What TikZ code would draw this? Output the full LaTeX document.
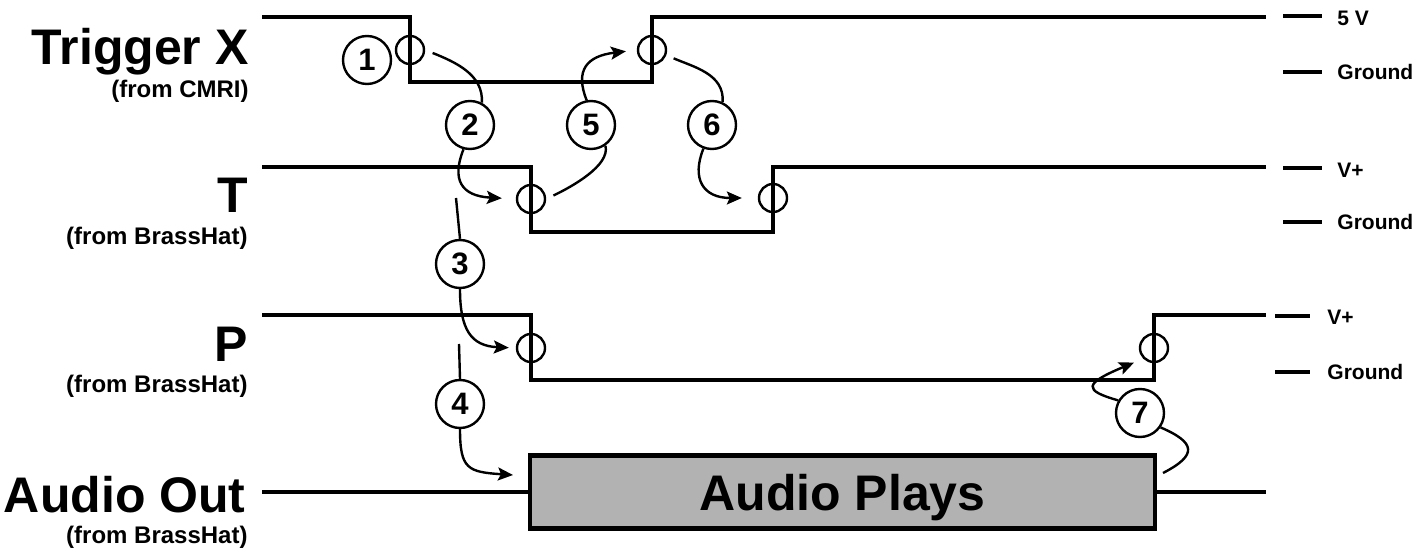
\documentclass[tikz,border=0pt]{standalone}
\usepackage{fontspec}
\setmainfont{Liberation Sans}
\usetikzlibrary{arrows.meta}
\definecolor{boxgray}{RGB}{178,178,178}
\tikzstyle{signal} = [line width=2.2pt]
\tikzstyle{levelmark} = [line width=2.2pt]
\tikzstyle{edgemark} = [
    circle,
    draw,
    line width=1.2pt,
    minimum size=14pt,
    inner sep=0pt
]
\tikzstyle{stepno} = [
    circle,
    draw,
    line width=1.2pt,
    minimum size=24pt,
    inner sep=0pt,
    font=\fontsize{15.5}{15.5}\selectfont\bfseries
]
\tikzstyle{playbox} = [
    rectangle,
    draw,
    line width=2.2pt,
    fill=boxgray,
    minimum width=312.5pt,
    minimum height=36.5pt,
    inner sep=0pt,
    text depth=0pt,
    font=\fontsize{25}{30}\selectfont\bfseries
]
\tikzstyle{bigtag} = [anchor=base east, inner sep=0pt, font=\fontsize{25}{30}\selectfont\bfseries]
\tikzstyle{subtag} = [anchor=base east, inner sep=0pt, font=\fontsize{12}{14}\selectfont\bfseries]
\tikzstyle{leveltag} = [anchor=base west, inner sep=0pt, font=\fontsize{10.5}{12}\selectfont\bfseries]
\tikzstyle{link} = [line width=1.2pt]
\tikzstyle{arrow} = [line width=1.2pt, -{Stealth[length=7.5pt,width=6.5pt,inset=1.5pt]}]

\begin{document}
\begin{tikzpicture}[x=0.5pt, y=-0.5pt]
\useasboundingbox (0,0) rectangle (1424,550);

\node (trigx) [bigtag] at (249,65) {Trigger X};
\node (trigxsrc) [subtag] at (249,98) {(from CMRI)};
\node (tline) [bigtag] at (248,213) {T};
\node (tsrc) [subtag] at (248,245) {(from BrassHat)};
\node (pline) [bigtag] at (248,362) {P};
\node (psrc) [subtag] at (248,393) {(from BrassHat)};
\node (audio) [bigtag] at (246,512) {Audio Out};
\node (audiosrc) [subtag] at (248,543) {(from BrassHat)};

\draw [signal] (262,17) -- (410,17) -- (410,82) -- (652,82) -- (652,17) -- (1266,17);
\draw [signal] (262,167) -- (531,167) -- (531,232) -- (773,232) -- (773,167) -- (1266,167);
\draw [signal] (262,315) -- (531,315) -- (531,380) -- (1154,380) -- (1154,315) -- (1266,315);

\node (play) [playbox] at (842.5,492) {Audio Plays};
\draw [signal] (262,492) -- (play.west);
\draw [signal] (play.east) -- (1266,492);

\draw [levelmark] (1283,16) -- (1322,16);
\draw [levelmark] (1283,72) -- (1322,72);
\draw [levelmark] (1283,168) -- (1322,168);
\draw [levelmark] (1283,222) -- (1322,222);
\draw [levelmark] (1275,316) -- (1310,316);
\draw [levelmark] (1275,372) -- (1310,372);
\node (fivev) [leveltag] at (1337,26) {5 V};
\node (gndx) [leveltag] at (1337,80) {Ground};
\node (vplust) [leveltag] at (1337,178) {V+};
\node (gndt) [leveltag] at (1337,230) {Ground};
\node (vplusp) [leveltag] at (1327,325) {V+};
\node (gndp) [leveltag] at (1327,380) {Ground};

\node (fallx) [edgemark] at (410,50) {};
\node (risex) [edgemark] at (652,50) {};
\node (fallt) [edgemark] at (531,199) {};
\node (riset) [edgemark] at (773,198) {};
\node (fallp) [edgemark] at (531,348) {};
\node (risep) [edgemark] at (1154,348) {};

\node (num1) [stepno] at (367,60) {1};
\node (num2) [stepno] at (470,125) {2};
\node (num5) [stepno] at (591,125) {5};
\node (num6) [stepno] at (712,125) {6};
\node (num3) [stepno] at (460,264) {3};
\node (num4) [stepno] at (460,404) {4};
\node (num7) [stepno] at (1140,413) {7};

\coordinate (from3) at (456,198);
\coordinate (from4) at (459,344);
\coordinate (to4) at (513,475);
\coordinate (from7) at (1163,473);

\draw [link, shorten <=4pt] (fallx.east) .. controls +(30,12) and +(2,-28) .. (num2.62);
\draw [arrow, shorten >=7pt] (num2.255) .. controls +(-12,30) and +(-55,-3) .. (fallt.west);
\draw [link, shorten <=4pt] (fallt.east) .. controls +(25,-12) and +(5,20) .. (num5.-55);
\draw [arrow, shorten >=5.5pt] (num5.100) .. controls +(-12,-30) and +(-50,6) .. (risex.west);
\draw [link, shorten <=4pt] (risex.-20) .. controls +(28,12) and +(2,-28) .. (num6.65);
\draw [arrow, shorten >=8pt] (num6.250) .. controls +(-12,30) and +(-55,0) .. (riset.west);
\draw [link] (from3) -- (num3.north);
\draw [arrow, shorten >=3.5pt] (num3.south) .. controls +(0,40) and +(-45,-2) .. (fallp.west);
\draw [link] (from4) -- (num4.north);
\draw [arrow] (num4.south) .. controls +(0,40) and +(-45,-3) .. (to4);
\draw [link] (from7) .. controls +(35,-18) and +(35,15) .. (num7.-35);
\draw [arrow, shorten >=5pt] (num7.150) .. controls +(-35,-10) and +(-60,25) .. (risep.south west);

\end{tikzpicture}
\end{document}
